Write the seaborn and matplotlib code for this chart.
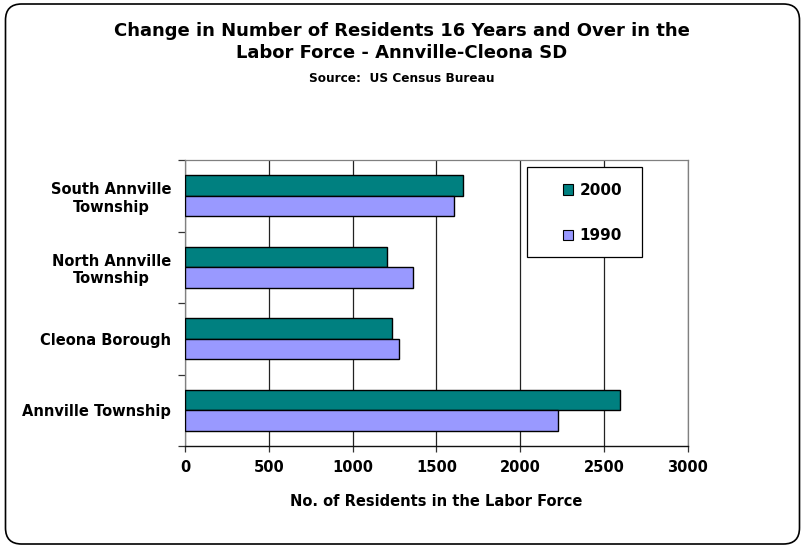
import matplotlib
matplotlib.use("Agg")
import matplotlib.pyplot as plt
from matplotlib.patches import FancyBboxPatch, Patch, Rectangle
from matplotlib.ticker import FixedLocator
import seaborn as sns
import pandas as pd

# Labor force counts by municipality
places = ["South Annville\nTownship", "North Annville\nTownship", "Cleona Borough", "Annville Township"]
years = ["2000", "1990"]
residents_2000 = [1656, 1203, 1236, 2596]
residents_1990 = [1606, 1361, 1278, 2222]
x_ticks = [0, 500, 1000, 1500, 2000, 2500, 3000]

colors = {"2000": "#008080", "1990": "#9999FF"}

df = pd.DataFrame({
    "place": places * 2,
    "year": ["2000"] * len(places) + ["1990"] * len(places),
    "residents": residents_2000 + residents_1990,
})

sns.set_style("white")
plt.rcParams["font.family"] = ["DejaVu Sans"]
plt.rcParams["text.color"] = "black"
plt.rcParams["axes.labelcolor"] = "black"
plt.rcParams["xtick.color"] = "black"
plt.rcParams["ytick.color"] = "black"

fig = plt.figure(figsize=(8.04, 5.49), dpi=100)
ax = fig.add_axes([185 / 804, 1 - 446 / 549, 503 / 804, 286 / 549])

sns.barplot(data=df, y="place", x="residents", hue="year", order=places,
            hue_order=years, palette=colors, saturation=1, orient="h", width=0.58,
            edgecolor="black", linewidth=1.0, ax=ax, legend=False, zorder=3)

ax.set_xlim(0, 3000)
ax.set_ylim(3.5, -0.5)
ax.set_xticks(x_ticks)
ax.set_xticklabels([str(t) for t in x_ticks], fontsize=10.5, fontweight="bold")
ax.xaxis.grid(True, color="#222222", linewidth=0.9, zorder=0)
ax.set_axisbelow(True)

ax.set_yticks(range(len(places)))
ax.set_yticklabels(places, fontsize=10.5, fontweight="bold", multialignment="center")
ax.tick_params(axis="y", which="major", length=0, pad=10)
ax.yaxis.set_minor_locator(FixedLocator([-0.5, 0.5, 1.5, 2.5, 3.5]))
ax.tick_params(axis="y", which="minor", length=5, width=0.9, color="#333333", left=True)
ax.tick_params(axis="x", which="major", length=4, width=0.9, color="#333333", bottom=True, pad=6)

ax.set_xlabel("No. of Residents in the Labor Force", fontsize=10.5, fontweight="bold", labelpad=14)
ax.set_ylabel("")

for side in ["top", "right", "left"]:
    ax.spines[side].set_color("#808080")
    ax.spines[side].set_linewidth(0.9)
ax.spines["bottom"].set_color("#111111")
ax.spines["bottom"].set_linewidth(1.0)

# Legend: white framed box with centered entries
box_x, box_y, box_w, box_h = 0.68, 0.661, 0.228, 0.315
ax.add_patch(Rectangle((box_x, box_y), box_w, box_h, transform=ax.transAxes,
                       facecolor="white", edgecolor="black", linewidth=0.9, zorder=4))
handles = [Patch(facecolor=colors[y], edgecolor="black", linewidth=0.8, label=y) for y in years]
leg = ax.legend(handles=handles, loc="center",
                bbox_to_anchor=(box_x + box_w / 2 + 0.016, box_y + box_h / 2 - 0.004),
                prop={"weight": "bold", "size": 11}, frameon=False,
                handlelength=0.7, handleheight=0.7, handletextpad=0.4,
                labelspacing=2.0, borderpad=0, borderaxespad=0)
leg.set_zorder(5)

fig.text(0.5, 1 - 42 / 549, "Change in Number of Residents 16 Years and Over in the\nLabor Force - Annville-Cleona SD",
         ha="center", va="center", fontsize=13, fontweight="bold", linespacing=1.3)
fig.text(0.5, 1 - 79 / 549, "Source:  US Census Bureau", ha="center", va="center",
         fontsize=8.7, fontweight="bold")

border = FancyBboxPatch((5.5 / 804, 5 / 549), 794 / 804, 540 / 549,
                        boxstyle="round,pad=0,rounding_size=0.02",
                        transform=fig.transFigure, fill=False, edgecolor="black",
                        linewidth=1.2, mutation_aspect=804 / 549)
fig.patches.append(border)

fig.savefig("out.png", dpi=100)
